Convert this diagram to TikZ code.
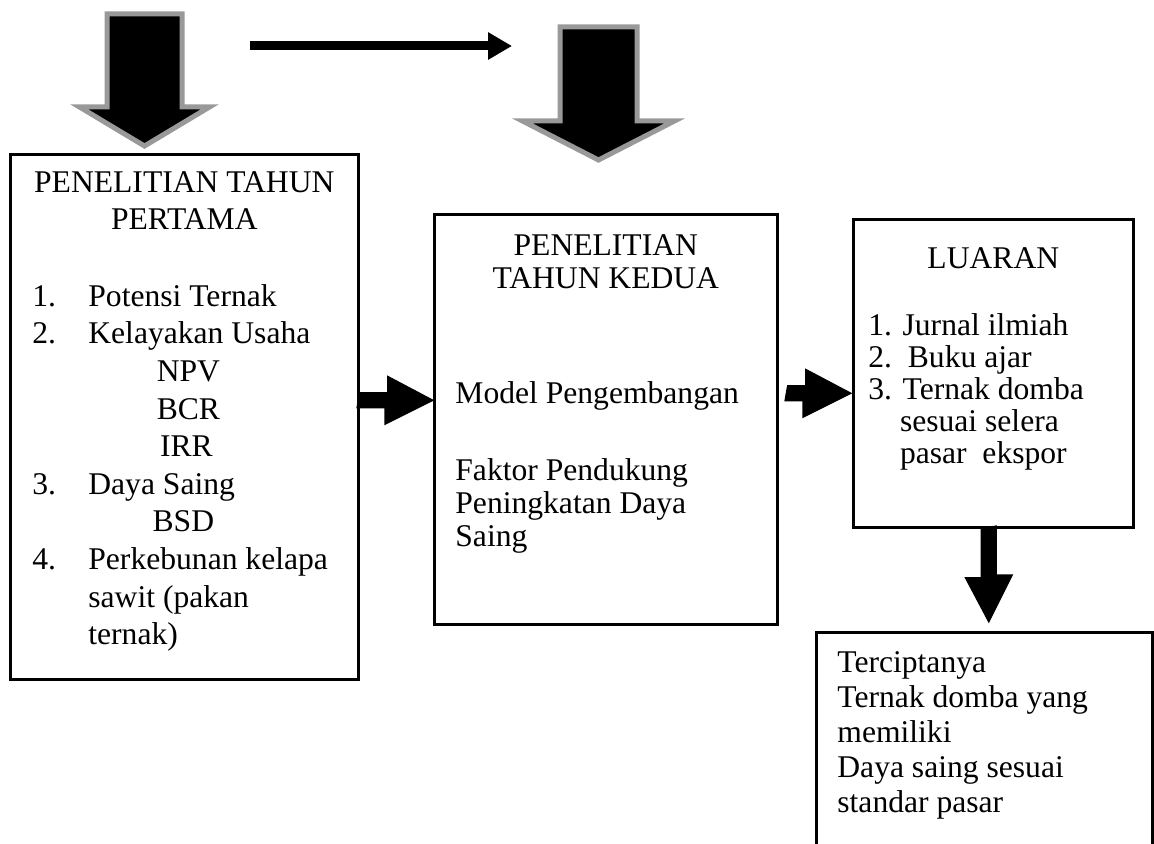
\documentclass[tikz,border=0pt]{standalone}
\usepackage{fontspec}
\setmainfont{Liberation Serif}
\usetikzlibrary{arrows.meta,positioning,calc}

\begin{document}
\begin{tikzpicture}[
  x=.5pt,y=-.5pt,
  box/.style={draw,line width=1.3pt,anchor=north west,inner sep=0pt},
  head/.style={anchor=north,inner sep=0pt,align=center,font=\fontsize{15.8}{16.5}\selectfont},
  body/.style={anchor=north west,inner sep=0pt,align=left,font=\fontsize{15.8}{#1}\selectfont},
  bigdown/.style={fill=black,draw=black!40,line width=2.5pt,line join=miter},
  blockarrow/.style={fill=black,draw=black,line width=.6pt,line join=miter},
  thinarrow/.style={-{Triangle[length=12pt,width=13pt]},line width=4.5pt}
]
\clip (0,0) rectangle (1154,844);

% boxes
\node[box,minimum width=174pt,minimum height=262.5pt] (tahun1) at (9,153) {};
\node[box,minimum width=171.5pt,minimum height=205pt] (tahun2) at (433,213) {};
\node[box,minimum width=140pt,minimum height=154pt] (luaran) at (852,218) {};
\node[box,minimum width=168pt,minimum height=125pt] (hasil) at (815,631) {};

% texts
\node[head,font=\fontsize{15.8}{18.8}\selectfont,below=9pt of tahun1.north] (tahun1head) {PENELITIAN TAHUN\\PERTAMA};
\node[body=18.8] (tahun1list) at ($(tahun1.north west)+(23,131)$) {%
\makebox[28pt][l]{1.}Potensi Ternak\\
\makebox[28pt][l]{2.}Kelayakan Usaha\\
\hspace*{78pt}\makebox[0pt]{NPV}\\
\hspace*{78pt}\makebox[0pt]{BCR}\\
\hspace*{77pt}\makebox[0pt]{IRR}\\
\makebox[28pt][l]{3.}Daya Saing\\
\hspace*{75.5pt}\makebox[0pt]{BSD}\\
\makebox[28pt][l]{4.}Perkebunan kelapa\\
\hspace*{28pt}sawit (pakan\\
\hspace*{28pt}ternak)};

\node[head,below=10.5pt of tahun2.north] (tahun2head) {PENELITIAN\\TAHUN KEDUA};
\node[body=16.5] (tahun2list) at ($(tahun2.north west)+(22,168)$) {%
Model Pengembangan\\[22pt]
Faktor Pendukung\\
Peningkatan Daya\\
Saing};

\node[head,below=14.75pt of luaran.north] (luaranhead) {LUARAN};
\node[body=16] (luaranlist) at ($(luaran.north west)+(16,95)$) {%
1. Jurnal ilmiah\\
2.\ \ Buku ajar\\
3. Ternak domba\\
\hphantom{3.}\ sesuai selera\\
\hphantom{3.}\ pasar\ \ ekspor};

\node[body=17.5] (hasillist) at ($(hasil.north west)+(22,20)$) {%
Terciptanya\\
Ternak domba yang\\
memiliki\\
Daya saing sesuai\\
standar pasar};

% top arrows
\coordinate (down1) at (144.5,14);
\coordinate (down2) at (598.5,27);
\coordinate (go1) at (250,46);
\coordinate (go2) at (512,46);
\filldraw[bigdown] (down1) ++(-37.5,0) -- ++(75,0) -- ++(0,93) -- ++(27.5,0) -- ($(down1)+(0,132)$) -- ++(-65,-39) -- ++(27.5,0) -- cycle;
\filldraw[bigdown] (down2) ++(-38.5,0) -- ++(77,0) -- ++(0,94) -- ++(37.5,0) -- ($(down2)+(0,133)$) -- ++(-76,-39) -- ++(37.5,0) -- cycle;
\draw[thinarrow] (go1) -- (go2);

% arrows between boxes
\coordinate (a12) at ($(tahun1.east)+(0,-16.5)$);
\filldraw[blockarrow] (a12) ++(0,-7.5) -- ++(28,0) -- ++(0,-16.5) -- (a12 -| tahun2.west) -- ++(-48,24) -- ++(0,-16.5) -- ++(-28,0) -- cycle;
\coordinate (a23) at ($(tahun2.east)+(9,-26)$);
\filldraw[blockarrow] (a23) ++(0,-7.5) -- ++(18,0) -- ++(0,-16.5) -- ($(a23 -| luaran.west)+(-1,0)$) -- ++(-48,24) -- ++(0,-16.5) -- ++(-18,0) -- cycle;
\coordinate (a34) at ($(luaran.south)+(-4.5,0)$);
\filldraw[blockarrow] (a34) ++(-7.5,0) -- ++(0,49) -- ++(-16,0) -- ($(a34 |- hasil.north)+(0,-9)$) -- ++(23.5,-47) -- ++(-16,0) -- ++(0,-49) -- cycle;
\end{tikzpicture}
\end{document}
